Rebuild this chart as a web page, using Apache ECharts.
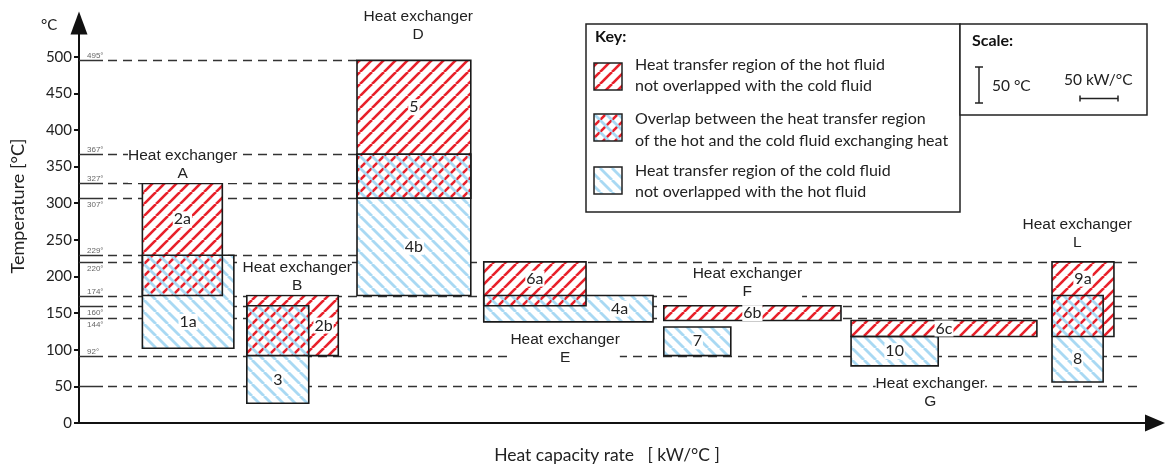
<!DOCTYPE html>
<html>
<head>
<meta charset="utf-8">
<script src="https://cdn.jsdelivr.net/npm/echarts@6/dist/echarts.min.js"></script>
<style>
html, body { margin: 0; padding: 0; background: #fff; }
#chart { width: 1165px; height: 470px; }
</style>
</head>
<body>
<div id="chart"></div>
<script>
// heat exchangers, left to right
const exchangers = ['A', 'B', 'D', 'E', 'F', 'G', 'L'];
// where each exchanger block starts on the heat capacity rate axis [kW/°C]
const exStart = [88, 233, 386, 562, 812, 1072, 1351];
// hot fluid streams
const hotNames = ['2a', '2b', '5', '6a', '6b', '6c', '9a'];
const hotRate = [111, 127, 158, 142, 246, 258, 86];
const hotIn = [327, 174, 495, 220, 160, 140, 220];
const hotOut = [174, 92, 307, 160, 140, 118, 118];
// cold fluid streams
const coldNames = ['1a', '3', '4b', '4a', '7', '10', '8'];
const coldRate = [127, 86, 158, 235, 93, 121, 71];
const coldIn = [102, 27, 174, 138, 92, 78, 56];
const coldOut = [229, 160, 367, 174, 131, 118, 174];
// reference temperatures (dashed lines)
const levels = [495, 367, 327, 307, 229, 220, 174, 160, 144, 92, 50];
const levelTags = ['495°', '367°', '327°', '307°', '229°', '220°', '174°', '160°', '144°', '92°', ''];
// where the "Heat exchanger X" captions sit
const captionX = [144, 303, 471, 675, 928, 1182, 1386];
const captionY = [352, 200, 542, 101, 191, 42, 258];
// y axis ticks
const tempTicks = [0, 50, 100, 150, 200, 250, 300, 350, 400, 450, 500];

const X_MAX = 1494;
const LINE_END = 1476;

function hatch(color, dir, width, step) {
  const c = document.createElement('canvas');
  c.width = c.height = step;
  const g = c.getContext('2d');
  g.strokeStyle = color;
  g.lineWidth = width;
  for (let o = -step; o <= step; o += step) {
    g.beginPath();
    if (dir > 0) { g.moveTo(o, step); g.lineTo(o + step, 0); }
    else { g.moveTo(o, 0); g.lineTo(o + step, step); }
    g.stroke();
  }
  return c;
}
const hotFill = { image: hatch('#e8202a', 1, 2.6, 12), repeat: 'repeat' };
const coldFill = { image: hatch('#a9d9f3', -1, 2.8, 12), repeat: 'repeat' };

const hotData = exchangers.map((e, i) => [exStart[i], exStart[i] + hotRate[i], hotOut[i], hotIn[i], i, 0]);
const coldData = exchangers.map((e, i) => [exStart[i], exStart[i] + coldRate[i], coldIn[i], coldOut[i], i, 1]);
const allData = hotData.concat(coldData);

const rightTop = Math.max(...hotIn.slice(3), ...coldOut.slice(3));
const levelData = levels.map((t, k) => [0, t > rightTop ? exStart[2] : LINE_END, t, k]);
const captionData = exchangers.map((e, i) => [captionX[i], captionY[i], i]);

function pxBox(api, d) {
  const a = api.coord([d[0], d[3]]);
  const b = api.coord([d[1], d[2]]);
  return { x: a[0], y: a[1], w: b[0] - a[0], h: b[1] - a[1] };
}

// centre of the roomiest part of r that is not covered by o
function freeSpot(r, o) {
  const ix = Math.min(r.x + r.w, o.x + o.w) - Math.max(r.x, o.x);
  const iy = Math.min(r.y + r.h, o.y + o.h) - Math.max(r.y, o.y);
  let best = null, room = -1;
  if (ix > 0 && iy > 0) {
    const parts = [];
    if (o.x > r.x) parts.push({ x: r.x, y: r.y, w: o.x - r.x, h: r.h });
    if (o.x + o.w < r.x + r.w) parts.push({ x: o.x + o.w, y: r.y, w: r.x + r.w - o.x - o.w, h: r.h });
    if (o.y > r.y) parts.push({ x: r.x, y: r.y, w: r.w, h: o.y - r.y });
    if (o.y + o.h < r.y + r.h) parts.push({ x: r.x, y: o.y + o.h, w: r.w, h: r.y + r.h - o.y - o.h });
    parts.forEach(p => {
      const m = Math.min(p.w, p.h);
      if (m > room) { room = m; best = p; }
    });
  }
  best = best || r;
  return [best.x + best.w / 2, best.y + best.h / 2];
}

function blocks(fill, stroke, lw) {
  return function (params, api) {
    const b = pxBox(api, [api.value(0), api.value(1), api.value(2), api.value(3)]);
    return {
      type: 'rect',
      shape: { x: b.x, y: b.y, width: b.w, height: b.h },
      style: { fill: fill, stroke: stroke, lineWidth: lw }
    };
  };
}

const chart = echarts.init(document.getElementById('chart'));
chart.setOption({
  backgroundColor: '#fff',
  animation: false,
  grid: { left: 79, right: 10, top: 23, bottom: 47 },
  xAxis: {
    type: 'value',
    min: 0,
    max: X_MAX,
    axisLine: { show: true, symbol: ['none', 'triangle'], symbolSize: [17, 20], lineStyle: { color: '#111', width: 2 } },
    axisTick: { show: false },
    axisLabel: { show: false },
    splitLine: { show: false }
  },
  yAxis: {
    type: 'value',
    min: 0,
    max: 546,
    interval: 50,
    axisLine: { show: true, symbol: ['none', 'triangle'], symbolSize: [17, 23], lineStyle: { color: '#111', width: 2 } },
    axisTick: { show: true, length: 5, customValues: tempTicks, lineStyle: { color: '#111', width: 2 } },
    axisLabel: {
      customValues: tempTicks,
      margin: 7,
      color: '#222',
      fontFamily: 'Lato',
      fontSize: 15,
      formatter: v => (v <= 500 ? String(v) : '')
    },
    splitLine: { show: false }
  },
  graphic: [
    { type: 'text', x: 41, y: 25, style: { text: '°C', font: '15px Lato', fill: '#222', verticalAlign: 'middle' } },
    { type: 'text', x: 18, y: 206, rotation: Math.PI / 2, style: { text: 'Temperature [°C]', font: '18px Lato', fill: '#222', align: 'center', verticalAlign: 'middle' } },
    { type: 'text', x: 607, y: 455, style: { text: 'Heat capacity rate   [ kW/°C ]', font: '17.5px Lato', fill: '#222', align: 'center', verticalAlign: 'middle' } },
    // key
    { type: 'rect', shape: { x: 586, y: 24, width: 374, height: 188 }, style: { fill: '#fff', stroke: '#222', lineWidth: 1.5 } },
    { type: 'text', x: 595, y: 37, style: { text: 'Key:', font: 'bold 16px Lato', fill: '#111', verticalAlign: 'middle' } },
    { type: 'rect', shape: { x: 594, y: 63, width: 28, height: 27 }, style: { fill: hotFill, stroke: '#222', lineWidth: 1.5 } },
    { type: 'rect', shape: { x: 594, y: 114, width: 28, height: 27 }, style: { fill: hotFill } },
    { type: 'rect', shape: { x: 594, y: 114, width: 28, height: 27 }, style: { fill: coldFill, stroke: '#222', lineWidth: 1.5 } },
    { type: 'rect', shape: { x: 594, y: 167, width: 28, height: 27 }, style: { fill: coldFill, stroke: '#222', lineWidth: 1.5 } },
    { type: 'text', x: 635, y: 65, style: { text: 'Heat transfer region of the hot fluid', font: '16px Lato', fill: '#222', verticalAlign: 'middle' } },
    { type: 'text', x: 635, y: 86, style: { text: 'not overlapped with the cold fluid', font: '16px Lato', fill: '#222', verticalAlign: 'middle' } },
    { type: 'text', x: 635, y: 119, style: { text: 'Overlap between the heat transfer region', font: '16px Lato', fill: '#222', verticalAlign: 'middle' } },
    { type: 'text', x: 635, y: 141, style: { text: 'of the hot and the cold fluid exchanging heat', font: '16px Lato', fill: '#222', verticalAlign: 'middle' } },
    { type: 'text', x: 635, y: 171, style: { text: 'Heat transfer region of the cold fluid', font: '16px Lato', fill: '#222', verticalAlign: 'middle' } },
    { type: 'text', x: 635, y: 192, style: { text: 'not overlapped with the hot fluid', font: '16px Lato', fill: '#222', verticalAlign: 'middle' } },
    // scale
    { type: 'rect', shape: { x: 960, y: 24, width: 187, height: 91 }, style: { fill: '#fff', stroke: '#222', lineWidth: 1.5 } },
    { type: 'text', x: 972, y: 41, style: { text: 'Scale:', font: 'bold 16px Lato', fill: '#111', verticalAlign: 'middle' } },
    { type: 'line', shape: { x1: 979, y1: 67, x2: 979, y2: 103 }, style: { stroke: '#222', lineWidth: 1.5 } },
    { type: 'line', shape: { x1: 975, y1: 67, x2: 983, y2: 67 }, style: { stroke: '#222', lineWidth: 1.5 } },
    { type: 'line', shape: { x1: 975, y1: 103, x2: 983, y2: 103 }, style: { stroke: '#222', lineWidth: 1.5 } },
    { type: 'text', x: 992, y: 86, style: { text: '50 °C', font: '15.5px Lato', fill: '#222', verticalAlign: 'middle' } },
    { type: 'text', x: 1064, y: 80, style: { text: '50 kW/°C', font: '15.5px Lato', fill: '#222', verticalAlign: 'middle' } },
    { type: 'line', shape: { x1: 1080, y1: 98.5, x2: 1118, y2: 98.5 }, style: { stroke: '#222', lineWidth: 1.5 } },
    { type: 'line', shape: { x1: 1080, y1: 95.5, x2: 1080, y2: 101.5 }, style: { stroke: '#222', lineWidth: 1.5 } },
    { type: 'line', shape: { x1: 1118, y1: 95.5, x2: 1118, y2: 101.5 }, style: { stroke: '#222', lineWidth: 1.5 } }
  ],
  series: [
    {
      name: 'levels',
      type: 'custom',
      z: 1,
      silent: true,
      data: levelData,
      encode: { x: [0, 1], y: 2 },
      renderItem: function (params, api) {
        const k = api.value(3);
        const a = api.coord([api.value(0), api.value(2)]);
        const b = api.coord([api.value(1), api.value(2)]);
        const y = Math.round(a[1]) + 0.5;
        const up = levels[k - 1];
        const below = up !== undefined && up - levels[k] < 25;
        return {
          type: 'group',
          children: [
            { type: 'line', shape: { x1: a[0], y1: y, x2: a[0] + 24, y2: y }, style: { stroke: '#333', lineWidth: 1.5 } },
            { type: 'line', shape: { x1: a[0] + 29, y1: y, x2: b[0], y2: y }, style: { stroke: '#333', lineWidth: 1.5, lineDash: [9, 6] } },
            { type: 'text', x: a[0] + 8, y: below ? y + 2 : y - 1, style: { text: levelTags[k], fill: '#666', font: '8px "Liberation Sans"', verticalAlign: below ? 'top' : 'bottom' } }
          ]
        };
      }
    },
    {
      name: 'backs',
      type: 'custom',
      z: 2,
      silent: true,
      data: allData,
      encode: { x: [0, 1], y: [2, 3] },
      renderItem: blocks('#fff', 'none', 0)
    },
    {
      name: 'hot',
      type: 'custom',
      z: 3,
      silent: true,
      data: hotData,
      encode: { x: [0, 1], y: [2, 3] },
      renderItem: blocks(hotFill, 'none', 0)
    },
    {
      name: 'cold',
      type: 'custom',
      z: 4,
      silent: true,
      data: coldData,
      encode: { x: [0, 1], y: [2, 3] },
      renderItem: blocks(coldFill, 'none', 0)
    },
    {
      name: 'borders',
      type: 'custom',
      z: 5,
      silent: true,
      data: allData,
      encode: { x: [0, 1], y: [2, 3] },
      renderItem: blocks('none', '#1a1a1a', 1.6)
    },
    {
      name: 'tags',
      type: 'custom',
      z: 6,
      silent: true,
      data: allData,
      encode: { x: [0, 1], y: [2, 3] },
      renderItem: function (params, api) {
        const i = api.value(4);
        const hot = api.value(5) === 0;
        const r = pxBox(api, hot ? hotData[i] : coldData[i]);
        const o = pxBox(api, hot ? coldData[i] : hotData[i]);
        const p = freeSpot(r, o);
        return {
          type: 'text',
          x: p[0],
          y: p[1],
          style: {
            text: hot ? hotNames[i] : coldNames[i],
            font: '16px Lato',
            fill: '#222',
            align: 'center',
            verticalAlign: 'middle',
            backgroundColor: '#fff',
            padding: [0, 1]
          }
        };
      }
    },
    {
      name: 'captions',
      type: 'custom',
      z: 6,
      silent: true,
      data: captionData,
      encode: { x: 0, y: 1 },
      renderItem: function (params, api) {
        const p = api.coord([api.value(0), api.value(1)]);
        return {
          type: 'text',
          x: p[0],
          y: p[1],
          style: {
            text: 'Heat exchanger\n' + exchangers[api.value(2)],
            font: '15.5px "Liberation Sans"',
            lineHeight: 18,
            fill: '#222',
            align: 'center',
            verticalAlign: 'middle',
            backgroundColor: '#fff'
          }
        };
      }
    }
  ]
});
</script>
</body>
</html>
